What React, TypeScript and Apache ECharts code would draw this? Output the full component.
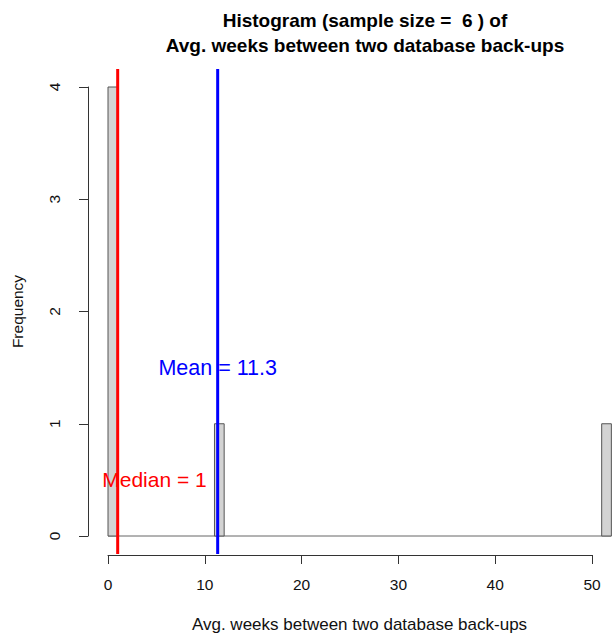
import React, { useEffect, useRef } from "react";
import * as echarts from "echarts";

// Histogram bins with non-zero counts: [left break, right break]
const binLeft = [0, 11, 51];
const binRight = [1, 12, 52];
const binCount = [4, 1, 1];
// full range of breaks (empty bins drawn as flat baseline)
const breaksRange = [0, 52];

const xTicks = [0, 10, 20, 30, 40, 50];
const yTicks = [0, 1, 2, 3, 4];

const medianValue = 1;
const meanValue = 11.33;
const medianLabel = "Median = 1";
const meanLabel = "Mean = 11.3";
const medianLabelPos = [4.8, 0.5];
const meanLabelPos = [11.33, 1.5];

// vertical extent of the plotting region (R's 4% extension)
const plotYLow = -0.16;
const plotYHigh = 4.16;

const titleText = "Histogram (sample size =  6 ) of\nAvg. weeks between two database back-ups";
const xName = "Avg. weeks between two database back-ups";
const yName = "Frequency";

const FONT = "'Liberation Sans', Arial, Helvetica, sans-serif";

export default function App() {
  const ref = useRef<HTMLDivElement>(null);
  useEffect(() => {
    if (!ref.current) return;
    const chart = echarts.init(ref.current, null, { renderer: "svg" });
    const barData = binLeft.map((l, i) => [l, binRight[i], binCount[i]]);
    chart.setOption({
      animation: false,
      backgroundColor: "#ffffff",
      textStyle: { fontFamily: FONT },
      title: {
        text: titleText,
        left: 360,
        top: 3,
        textAlign: "center",
        textStyle: {
          fontFamily: FONT,
          fontWeight: "bold",
          fontSize: 19,
          lineHeight: 25,
          color: "#000",
        },
      },
      grid: { left: 108, top: 87, width: 484, height: 450 },
      xAxis: {
        type: "value",
        min: xTicks[0],
        max: xTicks[xTicks.length - 1],
        interval: 10,
        offset: 19,
        splitLine: { show: false },
        axisLine: { show: true, onZero: false, lineStyle: { color: "#333", width: 1 } },
        axisTick: { show: true, length: 9, lineStyle: { color: "#333" } },
        axisLabel: {
          margin: 21,
          fontSize: 15.5,
          color: "#111",
          fontFamily: FONT,
        },
        name: xName,
        nameLocation: "middle",
        nameGap: 61,
        nameTextStyle: {
          fontSize: 17,
          color: "#111",
          fontFamily: FONT,
          padding: [0, 0, 0, 19],
        },
      },
      yAxis: {
        type: "value",
        min: yTicks[0],
        max: yTicks[yTicks.length - 1],
        interval: 1,
        offset: 20,
        splitLine: { show: false },
        axisLine: { show: true, onZero: false, lineStyle: { color: "#333", width: 1 } },
        axisTick: { show: true, length: 9, lineStyle: { color: "#333" } },
        axisLabel: {
          margin: 26,
          rotate: 90,
          fontSize: 15.5,
          color: "#111",
          fontFamily: FONT,
        },
        name: yName,
        nameLocation: "middle",
        nameGap: 63,
        nameTextStyle: { fontSize: 15.5, color: "#111", fontFamily: FONT },
      },
      series: [
        {
          type: "custom",
          clip: false,
          silent: true,
          data: [breaksRange],
          renderItem: (params: any, api: any) => {
            const a = api.coord([api.value(0), 0]);
            const b = api.coord([api.value(1), 0]);
            return {
              type: "line",
              shape: { x1: a[0], y1: a[1], x2: b[0], y2: b[1] },
              style: { stroke: "#666", lineWidth: 1 },
            };
          },
          z: 1,
        },
        {
          type: "custom",
          clip: false,
          data: barData,
          renderItem: (params: any, api: any) => {
            const p0 = api.coord([api.value(0), api.value(2)]);
            const p1 = api.coord([api.value(1), 0]);
            return {
              type: "rect",
              shape: {
                x: p0[0],
                y: p0[1],
                width: p1[0] - p0[0],
                height: p1[1] - p0[1],
              },
              style: { fill: "#d3d3d3", stroke: "#555", lineWidth: 1 },
            };
          },
          z: 2,
        },
        {
          type: "scatter",
          symbolSize: 0,
          itemStyle: { opacity: 1 },
          data: [medianLabelPos],
          label: {
            show: true,
            position: "inside",
            formatter: medianLabel,
            color: "#ff0000",
            opacity: 1,
            fontSize: 21,
            fontFamily: FONT,
          },
          z: 3,
        },
        {
          type: "scatter",
          symbolSize: 0,
          itemStyle: { opacity: 1 },
          data: [meanLabelPos],
          label: {
            show: true,
            position: "inside",
            formatter: meanLabel,
            color: "#0000ff",
            opacity: 1,
            fontSize: 21.5,
            fontFamily: FONT,
          },
          z: 3,
        },
        {
          type: "line",
          data: [
            [medianValue, plotYLow],
            [medianValue, plotYHigh],
          ],
          symbol: "none",
          clip: false,
          silent: true,
          lineStyle: { color: "#ff0000", width: 3 },
          z: 4,
        },
        {
          type: "line",
          data: [
            [meanValue, plotYLow],
            [meanValue, plotYHigh],
          ],
          symbol: "none",
          clip: false,
          silent: true,
          lineStyle: { color: "#0000ff", width: 3 },
          z: 4,
        },
      ],
    });
    return () => chart.dispose();
  }, []);
  return (
    <div
      ref={ref}
      style={{ position: "absolute", left: 0, top: 0, width: 616, height: 638 }}
    />
  );
}
